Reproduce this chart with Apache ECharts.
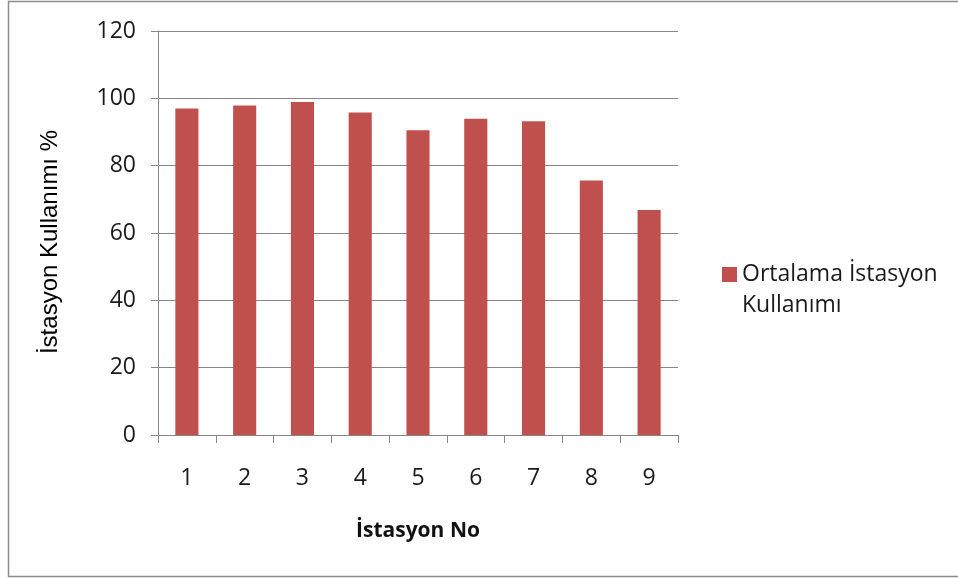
<!DOCTYPE html>
<html><head><meta charset="utf-8">
<script src="https://cdn.jsdelivr.net/npm/echarts@6/dist/echarts.min.js"></script>
<style>html,body{margin:0;padding:0;background:#fff}#c{width:958px;height:578px}</style>
</head><body><div id="c"></div>
<script>
const categories = ['1','2','3','4','5','6','7','8','9'];
const values = [97.0, 97.9, 98.9, 95.8, 90.5, 93.9, 93.2, 75.6, 66.8];
const seriesName = 'Ortalama İstasyon Kullanımı';
const legendLines = ['Ortalama İstasyon', 'Kullanımı'];
const xTitle = 'İstasyon No';
const yTitle = 'İstasyon Kullanımı %';

const chart = echarts.init(document.getElementById('c'), null, {renderer:'canvas'});
const font = 'Open Sans';
chart.setOption({
  animation:false,
  backgroundColor:'#fff',
  graphic:[{type:'rect', shape:{x:8.5,y:1.5,width:960,height:575}, style:{fill:'none', stroke:'#8c8c8c', lineWidth:1.5}, silent:true}],
  grid:{left:158, right:280, top:31, bottom:143},
  legend:{
    left:722, top:228, padding:0, itemWidth:15, itemHeight:15, itemGap:0, icon:'rect',
    formatter:function(n){return '\n' + legendLines.join('\n');},
    textStyle:{fontFamily:font, fontSize:23, color:'#1a1a1a', lineHeight:31}
  },
  xAxis:{
    type:'category', data:categories,
    name:xTitle, nameLocation:'middle', nameGap:86,
    nameTextStyle:{fontFamily:font, fontSize:21, fontWeight:'bold', color:'#111'},
    axisLine:{lineStyle:{color:'#868686', width:1}},
    axisTick:{show:true, length:8, lineStyle:{color:'#868686'}},
    axisLabel:{fontFamily:font, fontSize:23, color:'#1a1a1a', margin:32}
  },
  yAxis:{
    type:'value', min:0, max:120, interval:20,
    name:yTitle, nameLocation:'middle', nameGap:96, nameRotate:90,
    nameTextStyle:{fontFamily:'Liberation Sans', fontSize:24, color:'#000', padding:[0,18,0,0]},
    axisLine:{show:true, lineStyle:{color:'#868686', width:1}},
    axisTick:{show:true, length:7, lineStyle:{color:'#868686'}},
    axisLabel:{fontFamily:font, fontSize:23, color:'#1a1a1a', margin:22},
    splitLine:{lineStyle:{color:'#868686', width:1}}
  },
  series:[{
    name:seriesName, type:'bar', data:values,
    barCategoryGap:'60%',
    itemStyle:{color:'#C0504D'}
  }]
});
</script></body></html>
